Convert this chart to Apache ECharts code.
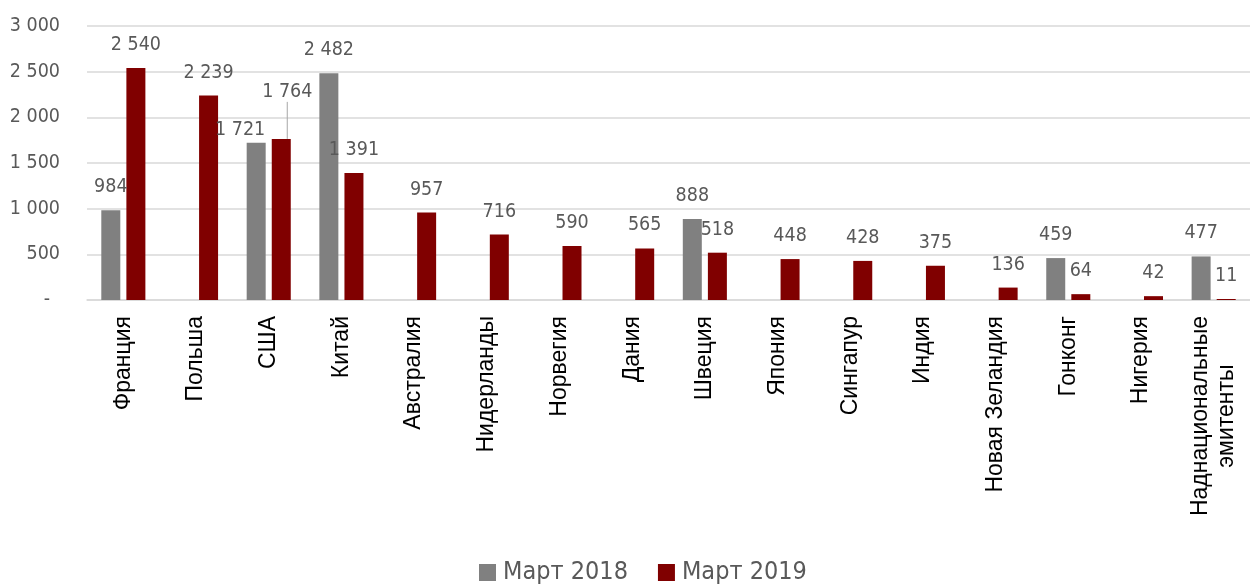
<!DOCTYPE html>
<html>
<head>
<meta charset="utf-8">
<script src="https://cdn.jsdelivr.net/npm/echarts@6/dist/echarts.min.js"></script>
<style>
html,body{margin:0;padding:0;background:#fff;}
#chart{width:1250px;height:585px;}
</style>
</head>
<body>
<div id="chart"></div>
<script>
const categories = ['Франция','Польша','США','Китай','Австралия','Нидерланды','Норвегия','Дания','Швеция','Япония','Сингапур','Индия','Новая Зеландия','Гонконг','Нигерия','Наднациональные\nэмитенты'];
const seriesNames = ['Март 2018','Март 2019'];
const march2018 = [984, null, 1721, 2482, null, null, null, null, 888, null, null, null, null, 459, null, 477];
const march2019 = [2540, 2239, 1764, 1391, 957, 716, 590, 565, 518, 448, 428, 375, 136, 64, 42, 11];
const yTicks = [0, 500, 1000, 1500, 2000, 2500, 3000];

const NARROW = "'Liberation Sans Narrow','Arial Narrow','DejaVu Sans Condensed',sans-serif";
const REG = "'Liberation Sans',Arial,sans-serif";
const NUM_SIZE = 19.5;
const fmt = v => String(v).replace(/\B(?=(\d{3})+(?!\d))/g, ' ');

const chart = echarts.init(document.getElementById('chart'));
chart.setOption({
  animation: false,
  backgroundColor: '#fff',
  grid: { left: 87, right: -8, top: 26, bottom: 285 },
  legend: {
    data: seriesNames,
    left: 474,
    top: 555,
    icon: 'rect',
    itemWidth: 17,
    itemHeight: 17,
    itemGap: 30,
    textStyle: { fontFamily: NARROW, fontSize: 25, color: '#595959', padding: [0, 0, 0, 2] }
  },
  xAxis: {
    type: 'category',
    data: categories,
    axisLine: { show: true, lineStyle: { color: '#d9d9d9', width: 1.5 } },
    axisTick: { show: false },
    axisLabel: {
      interval: 0,
      rotate: 90,
      margin: 16,
      color: '#000',
      fontFamily: REG,
      fontSize: 23,
      formatter: v => v.split('\n').map(s => '{c|' + s + '}').join('\n'),
      rich: { c: { fontFamily: REG, fontSize: 23, color: '#000', align: 'center', lineHeight: 26 } }
    }
  },
  yAxis: {
    type: 'value',
    min: yTicks[0],
    max: yTicks[yTicks.length - 1],
    interval: 500,
    axisLine: { show: false },
    axisTick: { show: false },
    splitLine: { lineStyle: { color: '#d9d9d9', width: 1.5 } },
    axisLabel: {
      margin: 27,
      color: '#595959',
      fontFamily: NARROW,
      fontSize: NUM_SIZE,
      formatter: v => v === 0 ? '{d|-}' : fmt(v),
      rich: { d: { fontFamily: NARROW, fontSize: NUM_SIZE, color: '#595959', padding: [0, 10, 0, 0] } }
    }
  },
  series: [
    {
      name: seriesNames[0],
      type: 'bar',
      data: march2018,
      barWidth: 19,
      barGap: '32%',
      itemStyle: { color: '#808080' },
      label: {
        show: true, position: 'top', distance: 13,
        color: '#595959', fontFamily: NARROW, fontSize: NUM_SIZE,
        formatter: p => fmt(p.value)
      },
      labelLayout: p => p.dataIndex === 2 ? { dx: -16, dy: 10 } : {}
    },
    {
      name: seriesNames[1],
      type: 'bar',
      data: march2019.map((v, i) => i === 2 ? { value: v, labelLine: { show: true, lineStyle: { color: '#a6a6a6', width: 1 } } } : v),
      barWidth: 19,
      itemStyle: { color: '#800000' },
      label: {
        show: true, position: 'top', distance: 13,
        color: '#595959', fontFamily: NARROW, fontSize: NUM_SIZE,
        formatter: p => fmt(p.value)
      },
      labelLine: { show: false },
      labelLayout: p => p.dataIndex === 2 ? { dx: 6, dy: -24 } : {}
    }
  ]
});
</script>
</body>
</html>
